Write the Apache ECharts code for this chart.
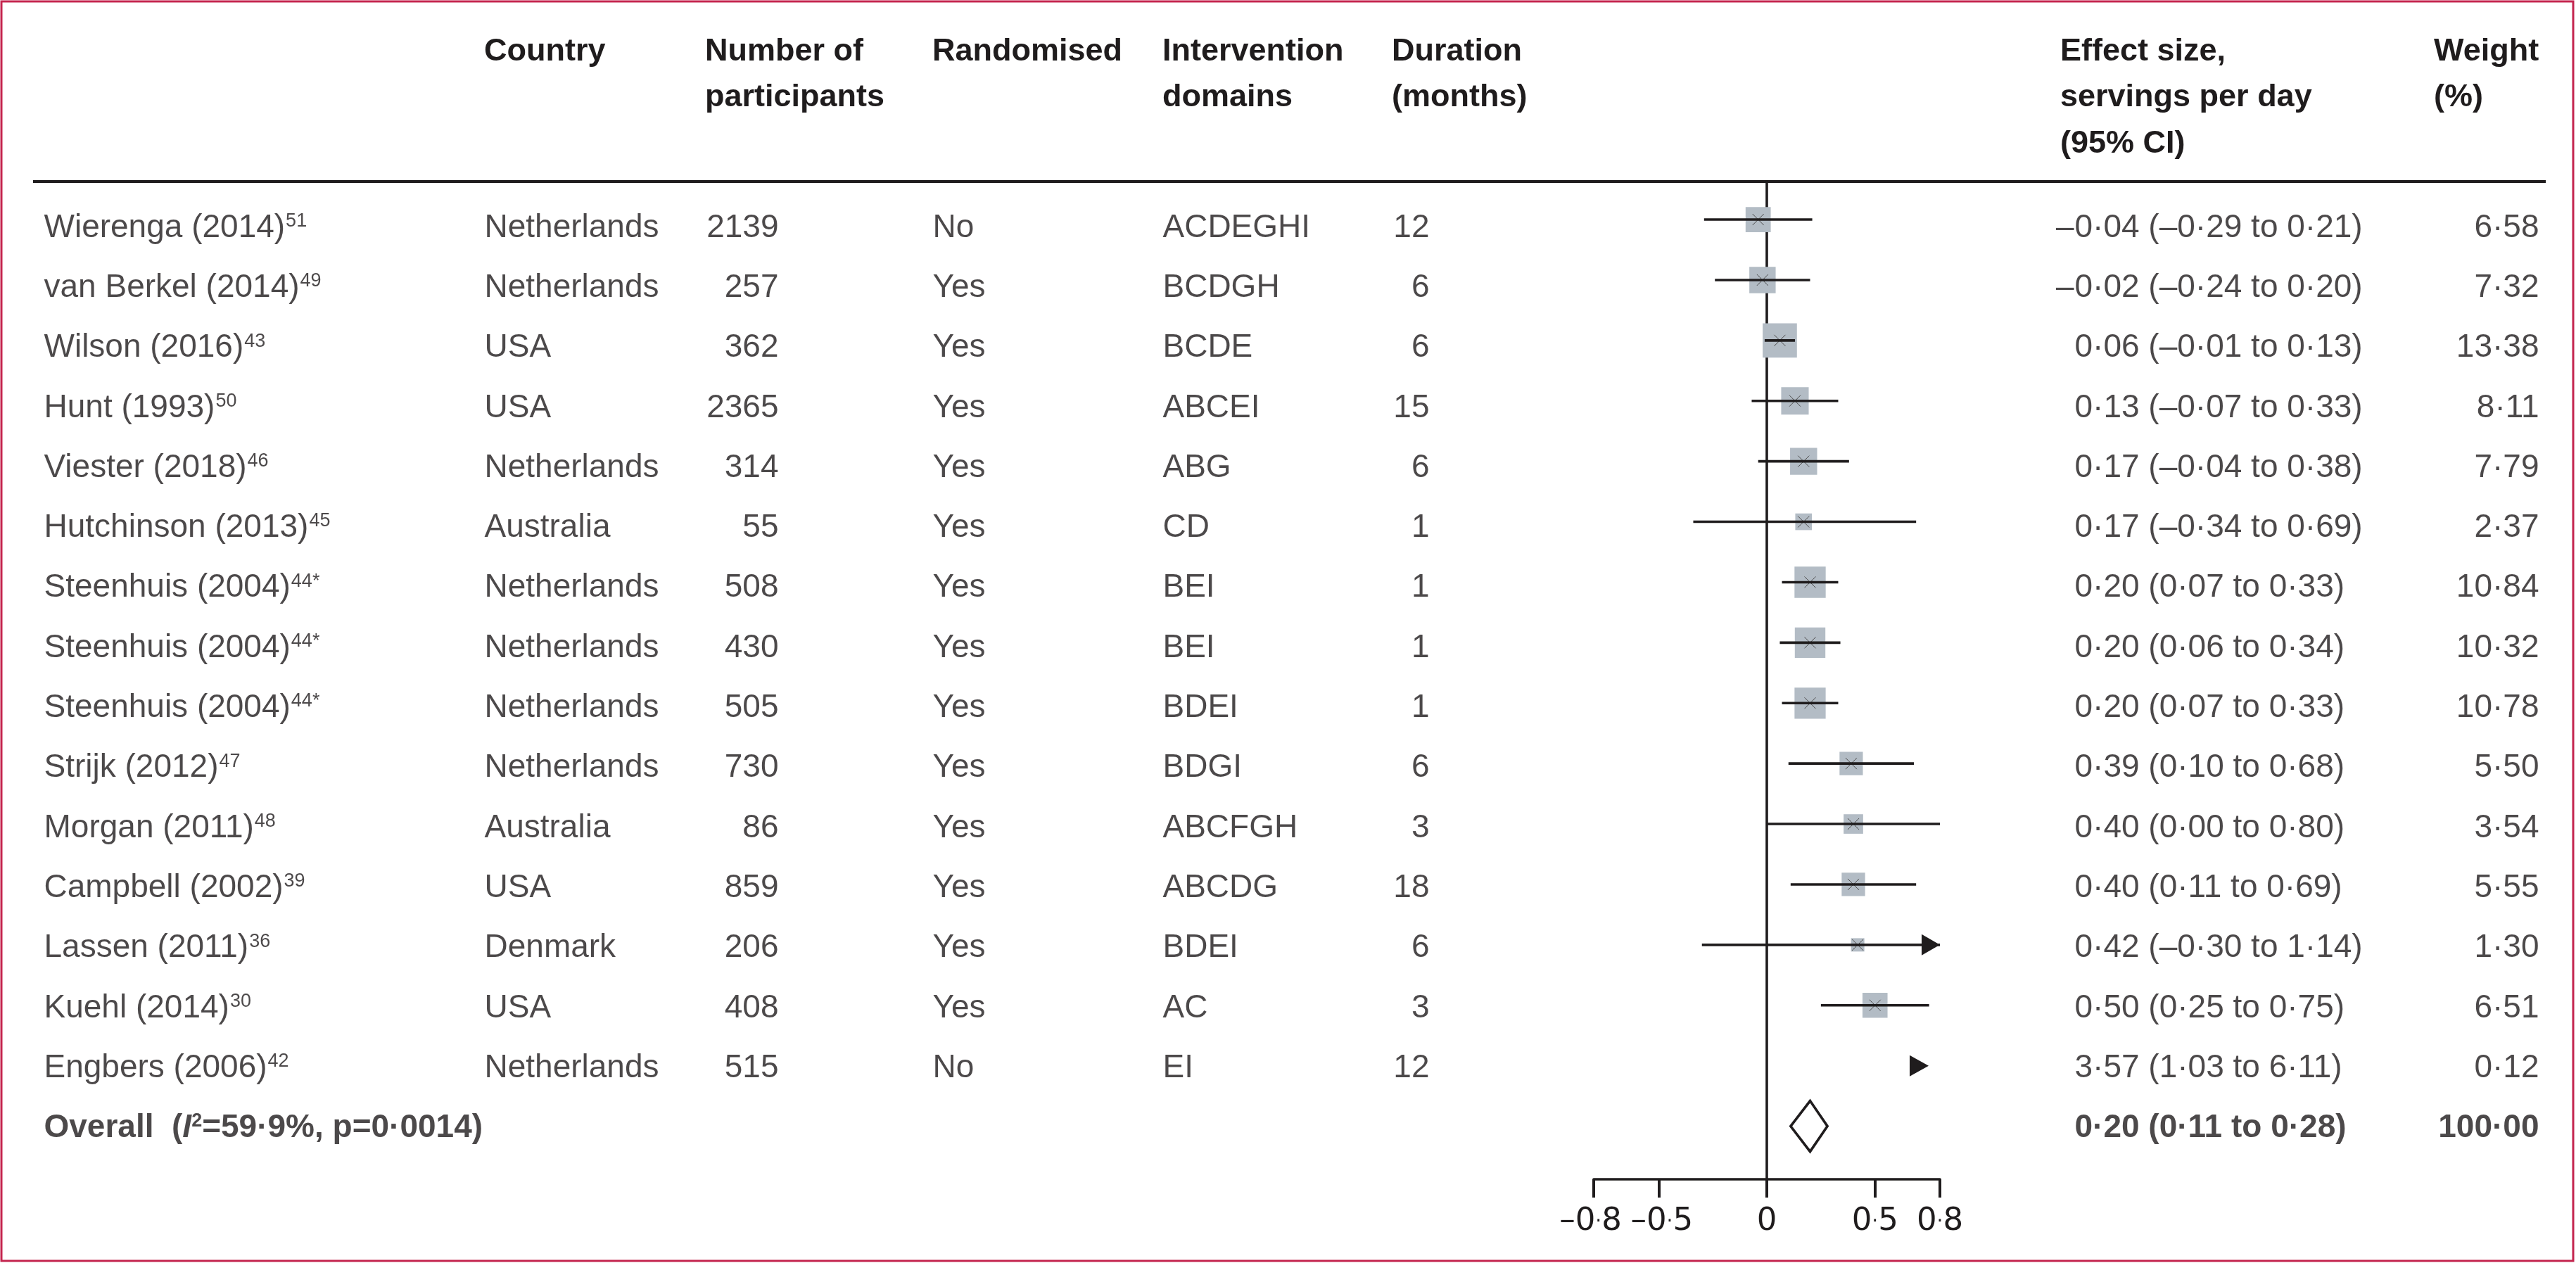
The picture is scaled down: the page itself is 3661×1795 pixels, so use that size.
<!DOCTYPE html>
<html>
<head>
<meta charset="utf-8">
<script src="https://cdn.jsdelivr.net/npm/echarts@6/dist/echarts.min.js"></script>
<style>
  html, body { margin: 0; padding: 0; background: #fff; }
  #main { width: 3661px; height: 1795px; }
</style>
</head>
<body>
<div id="main"></div>
<script>
// study rows, top to bottom
var studies = ['Wierenga (2014)', 'van Berkel (2014)', 'Wilson (2016)', 'Hunt (1993)', 'Viester (2018)',
  'Hutchinson (2013)', 'Steenhuis (2004)', 'Steenhuis (2004)', 'Steenhuis (2004)', 'Strijk (2012)',
  'Morgan (2011)', 'Campbell (2002)', 'Lassen (2011)', 'Kuehl (2014)', 'Engbers (2006)'];
var refs = ['51', '49', '43', '50', '46', '45', '44*', '44*', '44*', '47', '48', '39', '36', '30', '42'];
var countries = ['Netherlands', 'Netherlands', 'USA', 'USA', 'Netherlands', 'Australia', 'Netherlands',
  'Netherlands', 'Netherlands', 'Netherlands', 'Australia', 'USA', 'Denmark', 'USA', 'Netherlands'];
var participants = [2139, 257, 362, 2365, 314, 55, 508, 430, 505, 730, 86, 859, 206, 408, 515];
var randomised = ['No', 'Yes', 'Yes', 'Yes', 'Yes', 'Yes', 'Yes', 'Yes', 'Yes', 'Yes', 'Yes', 'Yes', 'Yes', 'Yes', 'No'];
var domains = ['ACDEGHI', 'BCDGH', 'BCDE', 'ABCEI', 'ABG', 'CD', 'BEI', 'BEI', 'BDEI', 'BDGI', 'ABCFGH', 'ABCDG', 'BDEI', 'AC', 'EI'];
var durations = [12, 6, 6, 15, 6, 1, 1, 1, 1, 6, 3, 18, 6, 3, 12];
var estimates = [-0.04, -0.02, 0.06, 0.13, 0.17, 0.17, 0.20, 0.20, 0.20, 0.39, 0.40, 0.40, 0.42, 0.50, 3.57];
var lower = [-0.29, -0.24, -0.01, -0.07, -0.04, -0.34, 0.07, 0.06, 0.07, 0.10, 0.00, 0.11, -0.30, 0.25, 1.03];
var upper = [0.21, 0.20, 0.13, 0.33, 0.38, 0.69, 0.33, 0.34, 0.33, 0.68, 0.80, 0.69, 1.14, 0.75, 6.11];
var weights = [6.58, 7.32, 13.38, 8.11, 7.79, 2.37, 10.84, 10.32, 10.78, 5.50, 3.54, 5.55, 1.30, 6.51, 0.12];

// pooled estimate
var overallEst = 0.20, overallLo = 0.11, overallHi = 0.28, overallWeight = 100.00;
var overallI2 = '59·9%', overallP = '0·0014';

// axis ticks
var axisTicks = [-0.8, -0.5, 0, 0.5, 0.8];

var ink = '#1f1c1d';
var font = '"Liberation Sans", Arial, sans-serif';
var fs = 46;

function fmt(v) {
  return (v < 0 ? '–' : '') + Math.abs(v).toFixed(2).replace('.', '·');
}

var myChart = echarts.init(document.getElementById('main'));

var overallRow = studies.length;

// column anchors (px on the table grid)
var colStudy = 62, colCountry = 688, colN = 1107, colRand = 1325, colDom = 1652, colDur = 2032,
  colEffect = 2948, colWeight = 3609;

var rich = {
  n: { fontFamily: font, fontSize: fs, color: ink },
  s: { fontFamily: font, fontSize: 27, color: ink, verticalAlign: 'top', padding: [0, 0, 0, 1] },
  b: { fontFamily: font, fontSize: fs, color: ink, fontWeight: 'bold' },
  bi: { fontFamily: font, fontSize: fs, color: ink, fontWeight: 'bold', fontStyle: 'italic' },
  bs: { fontFamily: font, fontSize: 27, color: ink, fontWeight: 'bold', verticalAlign: 'top' }
};

function textColumn(x, texts, alignRight) {
  return {
    type: 'scatter',
    xAxisIndex: 1, yAxisIndex: 1,
    symbolSize: 1,
    silent: true,
    itemStyle: { color: 'rgba(0,0,0,0)' },
    data: texts.map(function (t, i) {
      var item = { value: [x, i] };
      if (t && typeof t === 'object') {
        item.label = { formatter: t.text, fontWeight: t.bold ? 'bold' : 'normal' };
      } else {
        item.label = { formatter: String(t) };
      }
      return item;
    }),
    label: {
      show: true,
      position: alignRight ? 'left' : 'right',
      distance: 0,
      color: ink,
      fontFamily: font,
      fontSize: fs,
      rich: rich
    }
  };
}

var studyTexts = studies.map(function (s, i) { return '{n|' + s + '}{s|' + refs[i] + '}'; });
studyTexts.push('{b|Overall  (}{bi|I}{bs|2}{b|=' + overallI2 + ', p=' + overallP + ')}');

var effectSigns = estimates.map(function (e) { return e < 0 ? '–' : ''; });
var effectTexts = estimates.map(function (e, i) {
  return fmt(Math.abs(e)) + ' (' + fmt(lower[i]) + ' to ' + fmt(upper[i]) + ')';
});
effectTexts.push({ text: fmt(overallEst) + ' (' + fmt(overallLo) + ' to ' + fmt(overallHi) + ')', bold: true });

var weightTexts = weights.map(function (w) { return fmt(w); });
weightTexts.push({ text: overallWeight.toFixed(2).replace('.', '·'), bold: true });

var forestData = estimates.map(function (e, i) { return [e, i, lower[i], upper[i], weights[i]]; });

var xMin = -0.8, xMax = 0.8;

function renderStudy(params, api) {
  var est = api.value(0), row = api.value(1), lo = api.value(2), hi = api.value(3), w = api.value(4);
  var c = api.coord([Math.min(Math.max(est, xMin), xMax), row]);
  var y = c[1];
  var edge = api.coord([xMax, row])[0];
  var children = [];
  if (lo > xMax) {
    // whole interval beyond the axis: only an arrowhead
    var tip = edge - 16;
    children.push({ type: 'polygon', shape: { points: [[tip, y], [tip - 27, y - 15], [tip - 27, y + 15]] }, style: { fill: ink } });
    return { type: 'group', children: children };
  }
  var s = 5.5 + 11.8 * Math.sqrt(w);
  children.push({ type: 'rect', shape: { x: c[0] - s / 2, y: y - s / 2, width: s, height: s }, style: { fill: '#b3bcc5' } });
  children.push({ type: 'line', shape: { x1: c[0] - 8, y1: y - 8, x2: c[0] + 8, y2: y + 8 }, style: { stroke: '#4d4d4d', lineWidth: 1 } });
  children.push({ type: 'line', shape: { x1: c[0] - 8, y1: y + 8, x2: c[0] + 8, y2: y - 8 }, style: { stroke: '#4d4d4d', lineWidth: 1 } });
  var x1 = api.coord([Math.max(lo, xMin), row])[0];
  var x2 = api.coord([Math.min(hi, xMax), row])[0];
  children.push({ type: 'line', shape: { x1: x1, y1: y, x2: x2, y2: y }, style: { stroke: ink, lineWidth: 3.6 } });
  if (hi > xMax) {
    children.push({ type: 'polygon', shape: { points: [[x2, y], [x2 - 26, y - 15], [x2 - 26, y + 15]] }, style: { fill: ink } });
  }
  return { type: 'group', children: children };
}

function renderDiamond(params, api) {
  var row = api.value(1);
  var c = api.coord([api.value(0), row]);
  var l = api.coord([api.value(2), row]);
  var r = api.coord([api.value(3), row]);
  var h = 36;
  return {
    type: 'polygon',
    shape: { points: [[l[0], c[1]], [c[0], c[1] - h], [r[0], c[1]], [c[0], c[1] + h]] },
    style: { fill: '#fff', stroke: ink, lineWidth: 3.6 }
  };
}

function headerText(x, y, t) {
  return {
    type: 'text', x: x, y: y, silent: true,
    style: { text: t, fill: ink, fontFamily: font, fontSize: 45, fontWeight: 'bold', align: 'left', verticalAlign: 'middle' }
  };
}

var h1 = 74, h2 = 139, h3 = 205;

var axisFont = '"DejaVu Sans", sans-serif';

var option = {
  animation: false,
  backgroundColor: '#fff',
  grid: [
    { left: 2265, width: 492, top: 258, height: 1418, outerBoundsMode: 'none' },
    { left: 0, width: 3661, top: 0, height: 1795, outerBoundsMode: 'none' }
  ],
  xAxis: [
    {
      gridIndex: 0, type: 'value', min: xMin, max: xMax,
      axisLine: { show: true, onZero: false, lineStyle: { color: ink, width: 3.6 } },
      axisTick: { show: true, customValues: axisTicks, length: 26, lineStyle: { color: ink, width: 4 } },
      axisLabel: {
        show: true, customValues: axisTicks, margin: 38, color: ink, fontFamily: axisFont, fontSize: 45,
        formatter: function (v) {
          if (v === 0) return '{d|0}';
          var parts = String(Math.abs(v)).split('.');
          var txt = '{d|' + (v < 0 ? '–' : '') + parts[0] + '}{p|·}{d|' + parts[1] + '}';
          // the two negative labels sit close together, nudge them apart
          if (v === xMin) return txt + '{sp|}';
          if (v === -0.5) return '{sp|}' + txt;
          return txt;
        },
        rich: {
          d: { fontFamily: axisFont, fontSize: 45, color: ink },
          p: { fontFamily: axisFont, fontSize: 28, color: ink },
          sp: { width: 9 }
        }
      },
      splitLine: { show: false }
    },
    { gridIndex: 1, type: 'value', min: 0, max: 3661, show: false }
  ],
  yAxis: [
    {
      gridIndex: 0, type: 'value', inverse: true, min: -0.629, max: 15.878,
      axisLine: { show: true, onZero: true, lineStyle: { color: ink, width: 3.6 } },
      axisTick: { show: false }, axisLabel: { show: false }, splitLine: { show: false }
    },
    { gridIndex: 1, type: 'value', inverse: true, min: -3.798, max: 17.245, show: false }
  ],
  graphic: [
    { type: 'rect', silent: true, shape: { x: 2, y: 2, width: 3655, height: 1790 }, style: { fill: 'none', stroke: '#c4254e', lineWidth: 3 } },
    { type: 'line', silent: true, shape: { x1: 47, y1: 258, x2: 3618, y2: 258 }, style: { stroke: ink, lineWidth: 4 } },
    headerText(colCountry, h1, 'Country'),
    headerText(1002, h1, 'Number of'), headerText(1002, h2, 'participants'),
    headerText(colRand, h1, 'Randomised'),
    headerText(colDom, h1, 'Intervention'), headerText(colDom, h2, 'domains'),
    headerText(1978, h1, 'Duration'), headerText(1978, h2, '(months)'),
    headerText(2928, h1, 'Effect size,'), headerText(2928, h2, 'servings per day'), headerText(2928, h3, '(95% CI)'),
    headerText(3459, h1, 'Weight'), headerText(3459, h2, '(%)')
  ],
  series: [
    {
      type: 'custom', xAxisIndex: 0, yAxisIndex: 0, clip: false, silent: true,
      data: forestData, encode: { x: 0, y: 1 }, renderItem: renderStudy
    },
    {
      type: 'custom', xAxisIndex: 0, yAxisIndex: 0, clip: false, silent: true,
      data: [[overallEst, overallRow, overallLo, overallHi]], encode: { x: 0, y: 1 }, renderItem: renderDiamond
    },
    textColumn(colStudy, studyTexts, false),
    textColumn(colCountry, countries, false),
    textColumn(colN, participants, true),
    textColumn(colRand, randomised, false),
    textColumn(colDom, domains, false),
    textColumn(colDur, durations, true),
    textColumn(colEffect, effectSigns, true),
    textColumn(colEffect, effectTexts, false),
    textColumn(colWeight, weightTexts, true)
  ]
};

myChart.setOption(option);
</script>
</body>
</html>
